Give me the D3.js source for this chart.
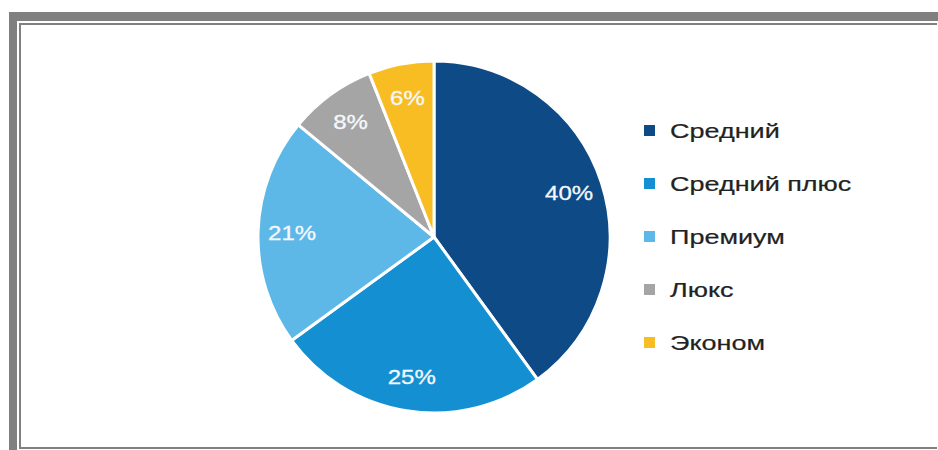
<!DOCTYPE html>
<html>
<head>
<meta charset="utf-8">
<script src="https://cdn.jsdelivr.net/npm/d3@7"></script>
<style>
  body { margin: 0; background: #fff; }
  svg { display: block; }
</style>
</head>
<body>
<div id="chart"></div>
<script>
// data
const categories = ["Средний", "Средний плюс", "Премиум", "Люкс", "Эконом"];
const shares = [40, 25, 21, 8, 6];
const colors = ["#0d4a86", "#1490d2", "#5db8e8", "#a5a5a5", "#f8bd22"];

const W = 938, H = 450;
const svg = d3.select("#chart").append("svg")
  .attr("width", W).attr("height", H);

// frame
const frameColor = "#808080";
svg.append("rect").attr("x", 9).attr("y", 12).attr("width", W - 9).attr("height", 9).attr("fill", frameColor);
svg.append("rect").attr("x", 9).attr("y", 12).attr("width", 8).attr("height", H - 12).attr("fill", frameColor);
svg.append("rect").attr("x", 19).attr("y", 23).attr("width", W - 20).attr("height", 2).attr("fill", frameColor);
svg.append("rect").attr("x", 19).attr("y", 23).attr("width", 2).attr("height", H - 24).attr("fill", frameColor);
svg.append("rect").attr("x", 19).attr("y", 447).attr("width", W - 20).attr("height", 2).attr("fill", frameColor);

// pie
const cx = 434, cy = 237, r = 176;
const data = categories.map((c, i) => ({ name: c, value: shares[i], color: colors[i] }));
const pie = d3.pie().value(d => d.value).sort(null);
const arc = d3.arc().innerRadius(0).outerRadius(r);
const labelArc = d3.arc().innerRadius(142).outerRadius(142);

const g = svg.append("g").attr("transform", `translate(${cx},${cy})`);
const arcs = pie(data);

g.selectAll("path.slice")
  .data(arcs)
  .join("path")
  .attr("class", "slice")
  .attr("d", arc)
  .attr("fill", d => d.data.color)
  .attr("stroke", "#fff")
  .attr("stroke-width", 3)
  .attr("stroke-linejoin", "round");

g.selectAll("text.lbl")
  .data(arcs)
  .join("text")
  .attr("class", "lbl")
  .attr("transform", d => {
    const [x, y] = labelArc.centroid(d);
    return `translate(${x},${y}) scale(1.2,1)`;
  })
  .attr("text-anchor", "middle")
  .attr("dy", "0.36em")
  .attr("fill", "#f4f8fc")
  .attr("stroke", "#f4f8fc")
  .attr("stroke-width", 0.3)
  .attr("font-family", "Liberation Sans, Arial, sans-serif")
  .attr("font-size", 20)
  .text(d => d.data.value + "%");

// legend
const legend = svg.append("g");
const rowY = d3.scalePoint().domain(categories).range([131, 343]);

const rows = legend.selectAll("g.row")
  .data(data)
  .join("g")
  .attr("class", "row")
  .attr("transform", d => `translate(644,${rowY(d.name)})`);

rows.append("rect")
  .attr("x", 0).attr("y", -6)
  .attr("width", 11).attr("height", 11)
  .attr("fill", d => d.color);

rows.append("text")
  .attr("transform", "translate(26,0) scale(1.35,1)")
  .attr("dy", "0.36em")
  .attr("fill", "#222")
  .attr("stroke", "#222")
  .attr("stroke-width", 0.2)
  .attr("font-family", "Liberation Sans, Arial, sans-serif")
  .attr("font-size", 20)
  .text(d => d.name);
</script>
</body>
</html>
